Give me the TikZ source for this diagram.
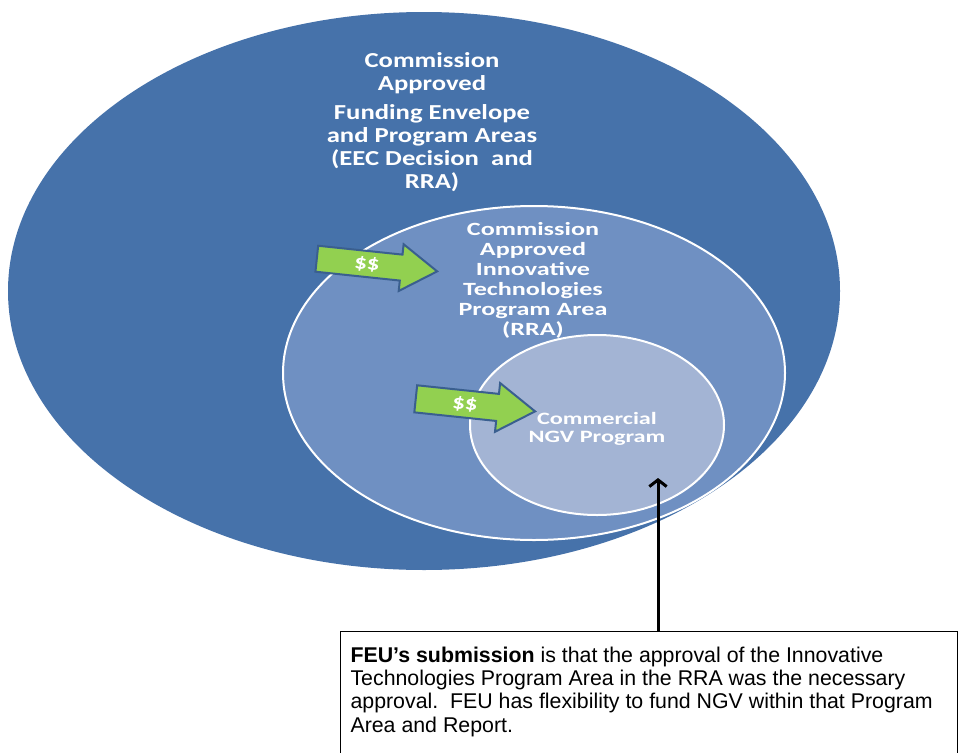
\documentclass[tikz,border=0pt]{standalone}
\usepackage{fontspec}
\setmainfont{Liberation Sans}
\newfontfamily\calibwide[FakeStretch=1.25]{Carlito}
\newfontfamily\calibwider[FakeStretch=1.4]{Carlito}
\usetikzlibrary{shapes.arrows,arrows.meta}

\definecolor{outerblue}{HTML}{4672AA}
\definecolor{midblue}{HTML}{6F90C2}
\definecolor{innerblue}{HTML}{A3B4D4}
\definecolor{cashgreen}{HTML}{92D050}
\definecolor{cashedge}{HTML}{3A5F8F}

\tikzset{
  ringtext/.style={text=white, align=center, inner sep=0pt},
  cash/.style={single arrow, fill=cashgreen, draw=cashedge, line width=1.5pt,
    text=white, font=\calibwide\bfseries\fontsize{15}{15}\selectfont,
    single arrow tip angle=66, inner sep=2.5pt}
}

\begin{document}
\begin{tikzpicture}[x=0.75pt, y=-0.75pt]
        \useasboundingbox (0,0) rectangle (960,753);

        % outer envelope
        \fill[outerblue] (424,291) ellipse [x radius=416, y radius=279];
        \node[ringtext, font=\calibwide\bfseries\fontsize{16}{17.25}\selectfont] (envelope) at (432,122)
          {Commission\\Approved\\[5pt]Funding Envelope\\and Program Areas\\(EEC Decision\ \ and\\RRA)};

        % innovative technologies area
        \draw[fill=midblue, draw=white, line width=1.5pt] (534,373) ellipse [x radius=251, y radius=167];
        \node[ringtext, font=\calibwider\bfseries\fontsize{14}{15}\selectfont] (innovative) at (533,280)
          {Commission\\Approved\\Innovative\\Technologies\\Program Area\\(RRA)};

        % NGV program
        \draw[fill=innerblue, draw=white, line width=1.5pt] (597,425) ellipse [x radius=127, y radius=90];
        \node[ringtext, font=\calibwider\bfseries\fontsize{13}{13.5}\selectfont] (ngv) at (597,429)
          {Commercial\\NGV Program};

        % funding arrows
        \node[cash, rotate=-6, minimum height=90.75pt, minimum width=35.25pt] (cash1) at (367,264) {\$\$};
        \node[cash, rotate=-6, minimum height=90pt, minimum width=36.75pt] (cash2) at (465,404) {\$\$};

        % submission box
        \node[draw, line width=0.8pt, anchor=north west, inner xsep=7.5pt, inner ysep=11.5pt,
          font=\fontsize{16}{17.5}\selectfont] (submission) at (340,631)
          {\begin{minipage}[t][100pt][t]{448pt}\raggedright
            \textbf{FEU’s submission} is that the approval of the Innovative\\
            Technologies Program Area in the RRA was the necessary\\
            approval.\ \ FEU has flexibility to fund NGV within that Program\\
            Area and Report.
          \end{minipage}};

        % pointer to the NGV program
        \coordinate (ngvtip) at (658,478);
        \draw[-{Straight Barb[length=5pt, width=13pt]}, line width=2.25pt] (submission.north -| ngvtip) -- (ngvtip);
\end{tikzpicture}
\end{document}
